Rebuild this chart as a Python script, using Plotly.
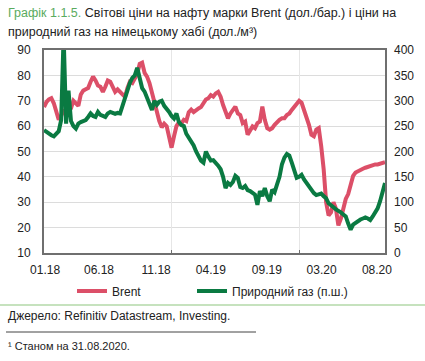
import datetime as dt
import plotly.graph_objects as go

# ---- data (weekly) ----
start = dt.date(2018, 1, 1)
brent = [67.5, 69.5, 70.5, 71, 69, 65, 62.5, 64, 66.5, 64.5,
         66, 67, 70, 69, 68, 72.5, 74, 74.5, 75, 77.5,
         79.5, 78, 76, 75.5, 73.5, 75.5, 78, 77.5, 75, 73.5,
         74.5, 73.5, 72, 71.5, 75, 77.5, 77, 78.5, 80.5, 84.5,
         85, 81, 79.5, 77, 73, 70, 66.5, 62, 59.5, 61,
         60, 55, 51.5, 56, 60, 61.5, 61, 62.5, 62, 65.5,
         66.5, 65.5, 66.5, 67, 67.5, 69, 70.5, 71, 72.2, 71.6,
         72.9, 73.5, 71.6, 68.3, 65.7, 63.1, 65, 66.4, 67.7, 65,
         64.4, 61.2, 61.8, 56.6, 58.6, 59.9, 59.2, 61.2, 61.8, 67.7,
         62.5, 59.2, 58.6, 59.2, 60.5, 61.8, 62.5, 63.1, 63.1, 64.4,
         65, 66.4, 67.7, 69, 70, 69.2, 66.4, 63.8, 60.5, 56.6,
         56, 58.6, 59.2, 52.1, 43, 30, 24.8, 26, 30, 27.4,
         20.9, 23.5, 28, 31.3, 33.2, 37.1, 40.4, 41.7, 42.3, 43,
         43.2, 43.6, 44, 44.3, 44.5, 44.9, 44.9, 45.3, 45.6, 45.8]
gas = [242, 238, 235, 232, 230, 235, 240, 262, 430, 255,
       320, 260, 250, 245, 255, 258, 260, 262, 268, 275,
       270, 268, 278, 272, 270, 268, 275, 278, 276, 274,
       276, 275, 290, 305, 322, 335, 345, 350, 365, 340,
       325, 318, 305, 290, 282, 300, 292, 298, 300, 290,
       285, 278, 270, 265, 275, 258, 252, 250, 235, 228,
       220, 212, 200, 190, 182, 178, 200, 190, 182, 183,
       178, 172, 165, 150, 128, 138, 134, 140, 152, 148,
       130, 128, 132, 124, 122, 118, 115, 95, 122, 112,
       128, 112, 102, 125, 120, 135, 150, 175, 188, 195,
       192, 178, 160, 148, 150, 154, 145, 138, 132, 124,
       118, 114, 115, 117, 112, 108, 98, 95, 90, 86,
       84, 80, 76, 72, 58, 46, 56, 60, 64, 66,
       68, 70, 68, 65, 72, 80, 88, 102, 120, 138]
dates = [start + dt.timedelta(days=7 * k) for k in range(len(brent))]

tick_dates = ["2018-01-04", "2018-06-07", "2018-11-17", "2019-04-22",
              "2019-09-29", "2020-03-03", "2020-08-08"]
tick_labels = ["01.18", "06.18", "11.18", "04.19", "09.19", "03.20", "08.20"]
year_marks = ["2019-01-01", "2020-01-01"]

RED = "#dc4f68"
GREEN = "#0a7a42"
FONT = "Liberation Sans, Arial, sans-serif"

W, H = 425, 361
L, R, T, B = 44, 40, 50, 108
PW, PH = W - L - R, H - T - B


def px(x):
    return (x - L) / PW


def py(y):
    return (H - B - y) / PH


fig = go.Figure()
fig.add_trace(go.Scatter(x=dates, y=brent, name="Brent", mode="lines", legend="legend",
                         line=dict(color=RED, width=4), xaxis="x", yaxis="y"))
fig.add_trace(go.Scatter(x=dates, y=gas, name="Природний газ (п.ш.)", mode="lines",
                         legend="legend2",
                         line=dict(color=GREEN, width=4), xaxis="x2", yaxis="y2"))

xr = ["2018-01-01", "2020-08-31"]
leg_common = dict(orientation="h", xanchor="left", yanchor="middle", y=py(291),
                  font=dict(family=FONT, size=12, color="#222"), itemwidth=30,
                  bgcolor="rgba(0,0,0,0)")
fig.update_layout(
    width=W, height=H,
    margin=dict(l=L, r=R, t=T, b=B, autoexpand=False),
    paper_bgcolor="white", plot_bgcolor="white",
    font=dict(family=FONT, size=12, color="#222"),
    showlegend=True,
    legend=dict(x=px(72), **leg_common),
    legend2=dict(x=px(192), **leg_common),
    xaxis=dict(type="date", range=xr, tickvals=tick_dates, ticktext=tick_labels,
               showgrid=False, ticks="", showline=True, mirror=True, automargin=False,
               linecolor="#6f6f6f", linewidth=2, tickfont=dict(size=12, color="#222"),
               ticklabelstandoff=5, zeroline=False),
    xaxis2=dict(type="date", range=xr, overlaying="x", anchor="y", side="bottom",
                tickvals=year_marks, showticklabels=False, showgrid=True, automargin=False,
                gridcolor="#e6e6e6", gridwidth=1, ticks="inside", ticklen=3,
                tickcolor="#6f6f6f", showline=False, zeroline=False),
    yaxis=dict(range=[10, 90], dtick=10, showgrid=True, gridcolor="#dcdcdc",
               gridwidth=1, ticks="", showline=True, mirror=True, automargin=False,
               linecolor="#6f6f6f", linewidth=2, zeroline=False, ticklabelstandoff=9,
               tickfont=dict(size=12, color="#222")),
    yaxis2=dict(range=[0, 400], dtick=50, overlaying="y", side="right", anchor="x2",
                showgrid=False, ticks="", showline=False, zeroline=False, automargin=False,
                ticklabelstandoff=8, tickfont=dict(size=12, color="#222")),
)

anns = [
    dict(x=px(6), y=py(13),
         text="<span style='color:#5aab5e'>Графік 1.1.5.</span> Світові ціни на нафту марки Brent (дол./бар.) і ціни на",
         size=12.5),
    dict(x=px(6), y=py(32), text="природний газ на німецькому хабі (дол./м³)", size=12.5),
    dict(x=px(6), y=py(316), text="Джерело: Refinitiv Datastream, Investing.", size=12),
    dict(x=px(6), y=py(346), text="¹ Станом на 31.08.2020.", size=11),
]
for a in anns:
    fig.add_annotation(x=a["x"], y=a["y"], xref="paper", yref="paper", text=a["text"],
                       showarrow=False, xanchor="left", yanchor="middle",
                       font=dict(family=FONT, size=a["size"], color="#222"))

fig.add_shape(type="line", xref="paper", yref="paper", x0=px(0), x1=px(425),
              y0=py(305), y1=py(305), line=dict(color="#8dc67e", width=1.2))
fig.add_shape(type="line", xref="paper", yref="paper", x0=px(6), x1=px(256),
              y0=py(332), y1=py(332), line=dict(color="#444", width=1))

fig.write_html("out.html", config={"displayModeBar": False},
               post_script="document.body.style.margin='0';document.body.style.overflow='hidden';")
